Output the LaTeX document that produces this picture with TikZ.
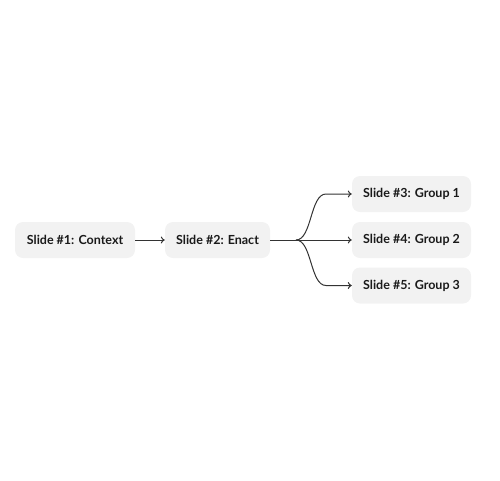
\documentclass[tikz,border=0pt]{standalone}
\usepackage{fontspec}
\setmainfont{Lato}
\usetikzlibrary{arrows.meta}
\definecolor{boxfill}{HTML}{F2F2F2}
\definecolor{linec}{HTML}{333333}
\definecolor{textc}{HTML}{1A1A1A}
\begin{document}
\begin{tikzpicture}[x=1pt,y=-1pt,
  slidebox/.style={fill=boxfill,rounded corners=8pt,minimum height=36pt,inner sep=0pt,
    font=\fontsize{12.5}{14}\selectfont\bfseries,text=textc},
  conn/.style={draw=linec,line width=1pt,-{To[length=4pt,width=7pt]}},
  plain/.style={draw=linec,line width=1pt}]
\useasboundingbox (0,0) rectangle (500,480);
\node[slidebox,minimum width=120pt] (b1) at (75,240) {Slide \#1: Context};
\node[slidebox,minimum width=105pt] (b2) at (217.5,240) {Slide \#2: Enact};
\node[slidebox,minimum width=119pt] (b3) at (411.5,194) {Slide \#3: Group 1};
\node[slidebox,minimum width=119pt] (b4) at (411.5,240) {Slide \#4: Group 2};
\node[slidebox,minimum width=119pt] (b5) at (411.5,285.5) {Slide \#5: Group 3};
\coordinate (j) at (296,240);
\coordinate (t3) at (326,194);
\coordinate (t5) at (326,285.5);
\draw[conn] (b1) -- (b2);
\draw[plain] (b2) -- (j);
\draw[conn] (j) .. controls (312,240) and (310,194) .. (t3) -- (b3.west);
\draw[conn] (j) -- (b4.west);
\draw[conn] (j) .. controls (312,240) and (310,285.5) .. (t5) -- (b5.west);
\end{tikzpicture}
\end{document}
